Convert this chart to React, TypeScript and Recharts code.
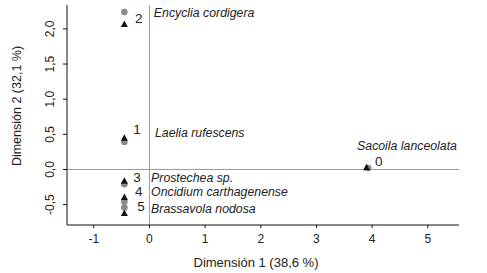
import React from 'react';
import {
  ScatterChart,
  Scatter,
  XAxis,
  YAxis,
  ReferenceLine,
  Label,
} from 'recharts';

// Triangles (black) and circles (grey) per species, index 0..5
const triangles = [
  { x: 3.9, y: 0.03 },
  { x: -0.45, y: 0.45 },
  { x: -0.45, y: 2.07 },
  { x: -0.45, y: -0.16 },
  { x: -0.45, y: -0.39 },
  { x: -0.45, y: -0.62 },
];

const circles = [
  { x: 3.93, y: 0.02 },
  { x: -0.45, y: 0.39 },
  { x: -0.45, y: 2.24 },
  { x: -0.45, y: -0.21 },
  { x: -0.45, y: -0.46 },
  { x: -0.45, y: -0.54 },
];

// Number tags and species names, placed in data units
const numberTags = [
  { x: 4.05, y: 0.12, text: '0' },
  { x: -0.29, y: 0.57, text: '1' },
  { x: -0.26, y: 2.15, text: '2' },
  { x: -0.29, y: -0.11, text: '3' },
  { x: -0.26, y: -0.32, text: '4' },
  { x: -0.22, y: -0.53, text: '5' },
];

const speciesNames = [
  { x: 3.73, y: 0.33, text: 'Sacoila lanceolata' },
  { x: 0.1, y: 0.52, text: 'Laelia rufescens' },
  { x: 0.08, y: 2.23, text: 'Encyclia cordigera' },
  { x: 0.03, y: -0.12, text: 'Prostechea sp.' },
  { x: 0.03, y: -0.32, text: 'Oncidium carthagenense' },
  { x: 0.03, y: -0.56, text: 'Brassavola nodosa' },
];

const xTicks = [-1, 0, 1, 2, 3, 4, 5];
const yTicks = [-0.5, 0, 0.5, 1, 1.5, 2];

const FONT = 'Liberation Sans, Arial, sans-serif';
const TEXT = '#222';

const Triangle = (props: any) => {
  const { cx, cy } = props;
  if (cx == null || cy == null) return null;
  return <path d={`M${cx},${cy - 3.5} L${cx + 3.5},${cy + 3} L${cx - 3.5},${cy + 3} Z`} fill="#111" />;
};

const Dot = (props: any) => {
  const { cx, cy } = props;
  if (cx == null || cy == null) return null;
  return <circle cx={cx} cy={cy} r={3.3} fill="#8a8a8a" />;
};

const makeText = (italic: boolean, size: number) => (props: any) => {
  const { cx, cy, payload } = props;
  if (cx == null || cy == null) return null;
  return (
    <text
      x={cx}
      y={cy}
      dominantBaseline="central"
      textAnchor="start"
      fontFamily={FONT}
      fontSize={size}
      fontStyle={italic ? 'italic' : 'normal'}
      fill={TEXT}
    >
      {payload.text}
    </text>
  );
};

const YTick = (props: any) => {
  const { x, y, payload } = props;
  const label = payload.value.toFixed(1).replace('.', ',');
  const bx = x - 7;
  return (
    <text
      x={bx}
      y={y}
      transform={`rotate(-90, ${bx}, ${y})`}
      textAnchor="middle"
      fontFamily={FONT}
      fontSize={12}
      fill={TEXT}
    >
      {label}
    </text>
  );
};

const YTitle = (props: any) => {
  const { viewBox } = props;
  const x = 21;
  const y = viewBox.y + viewBox.height / 2 - 9;
  return (
    <text
      x={x}
      y={y}
      transform={`rotate(-90, ${x}, ${y})`}
      textAnchor="middle"
      fontFamily={FONT}
      fontSize={12.5}
      fill={TEXT}
    >
      Dimensión 2 (32,1 %)
    </text>
  );
};

export default function App() {
  return (
    <div style={{ position: 'absolute', left: 0, top: 0, width: 487, height: 273, background: '#fff' }}>
      <ScatterChart width={487} height={273} margin={{ top: 5, right: 28, bottom: 0, left: 0 }}>
        <XAxis
          type="number"
          dataKey="x"
          domain={[-1.48, 5.56]}
          ticks={xTicks}
          allowDataOverflow
          height={48}
          stroke="#111"
          tickSize={3}
          tick={{ fontFamily: FONT, fontSize: 12, fill: TEXT, dy: 4 }}
        >
          <Label
            value="Dimensión 1 (38,6 %)"
            position="insideBottom"
            offset={6}
            dx={-7}
            style={{ fontFamily: FONT, fontSize: 13, fill: TEXT }}
          />
        </XAxis>
        <YAxis
          type="number"
          dataKey="y"
          domain={[-0.79, 2.34]}
          ticks={yTicks}
          allowDataOverflow
          width={67}
          stroke="#111"
          tickSize={4}
          tick={<YTick />}
        >
          <Label content={<YTitle />} />
        </YAxis>
        <ReferenceLine y={0} stroke="#999" strokeWidth={1} />
        <ReferenceLine x={0} stroke="#999" strokeWidth={1} />
        <Scatter data={circles} shape={<Dot />} isAnimationActive={false} />
        <Scatter data={triangles} shape={<Triangle />} isAnimationActive={false} />
        <Scatter data={numberTags} shape={makeText(false, 13.5)} isAnimationActive={false} />
        <Scatter data={speciesNames} shape={makeText(true, 12.3)} isAnimationActive={false} />
      </ScatterChart>
    </div>
  );
}
